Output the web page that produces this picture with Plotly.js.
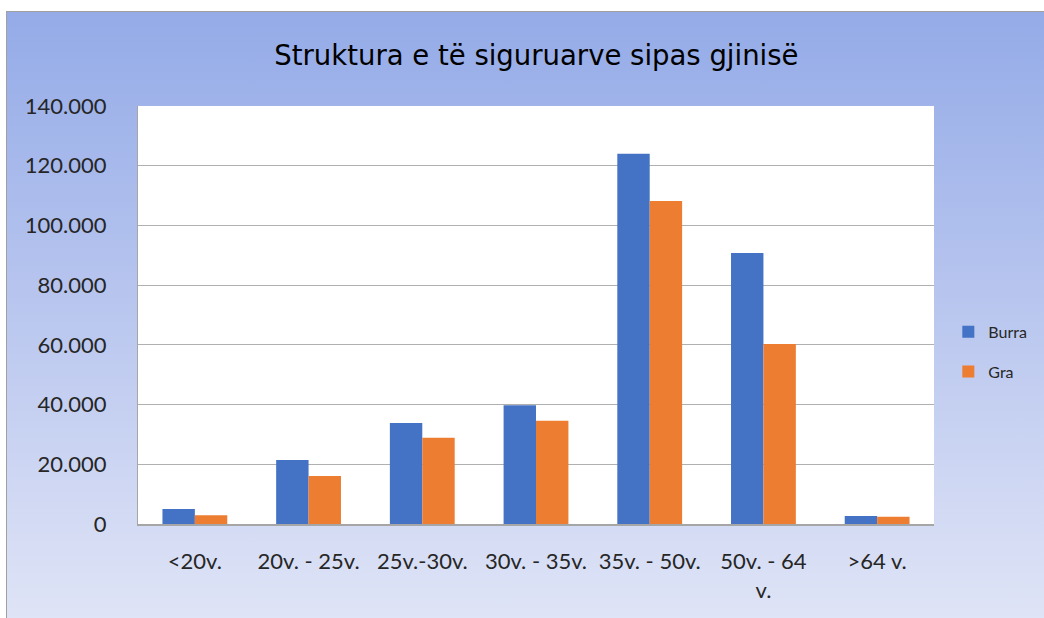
<!DOCTYPE html>
<html><head><meta charset="utf-8">
<script src="https://cdn.plot.ly/plotly-3.0.1.min.js"></script>
<style>
html,body{margin:0;padding:0;background:#fff;width:1044px;height:618px;overflow:hidden;}
#frame{position:absolute;left:6px;top:11px;width:1038px;height:607px;border-top:1px solid #a0a0a0;border-left:1px solid #a0a0a0;
background:linear-gradient(to bottom,#94abe8 0%,#b6c4ee 45%,#dfe4f6 100%);}
#chart{width:1038px;height:607px;}
</style></head>
<body><div id="frame"><div id="chart"></div></div>
<script>
var categories = ["<20v.", "20v. - 25v.", "25v.-30v.", "30v. - 35v.", "35v. - 50v.", "50v. - 64<br>v.", ">64 v."];
var burra = [5000, 21400, 33800, 39800, 124000, 90800, 2700];
var gra = [2900, 16100, 28900, 34600, 108200, 60300, 2400];
var seriesNames = ["Burra", "Gra"];
var titleText = "Struktura e të siguruarve sipas gjinisë";

var traces = [
  {type:"bar", name:seriesNames[0], legendgroup:"a", x:categories, y:burra, marker:{color:"#4472C4"}},
  {type:"bar", name:seriesNames[1], legendgroup:"b", x:categories, y:gra, marker:{color:"#ED7D31"}}
];
var layout = {
  width:1038, height:607,
  paper_bgcolor:"rgba(0,0,0,0)", plot_bgcolor:"#ffffff",
  separators:",.",
  margin:{l:131, r:111, t:94, b:95},
  barmode:"group", bargap:0.43, bargroupgap:0,
  font:{family:"Lato, 'Open Sans', sans-serif", color:"#262626"},
  title:{text:titleText, font:{family:"'DejaVu Sans', sans-serif", size:27.5, color:"#000"}, x:0.51, xanchor:"center", y:1-43/607, yanchor:"middle", yref:"container"},
  xaxis:{type:"category", showline:true, linecolor:"#a6a6a6", linewidth:2, ticks:"outside", ticklen:17, tickcolor:"rgba(0,0,0,0)", tickfont:{size:22, color:"#262626"}, showgrid:false},
  yaxis:{range:[0,140000], dtick:20000, tickformat:",d", showline:true, linecolor:"#a6a6a6", linewidth:1, gridcolor:"#b0b0b0", gridwidth:1, ticks:"outside", ticklen:26, tickcolor:"rgba(0,0,0,0)", tickfont:{size:22, color:"#262626"}, zeroline:false},
  legend:{orientation:"v", x:1.018, xanchor:"left", xref:"paper", y:0.412, yanchor:"middle", font:{size:16, color:"#262626"}, bgcolor:"rgba(0,0,0,0)", itemwidth:30, tracegroupgap:16, borderwidth:0},
  showlegend:true
};
Plotly.newPlot("chart", traces, layout, {displayModeBar:false, staticPlot:true});
</script></body></html>
